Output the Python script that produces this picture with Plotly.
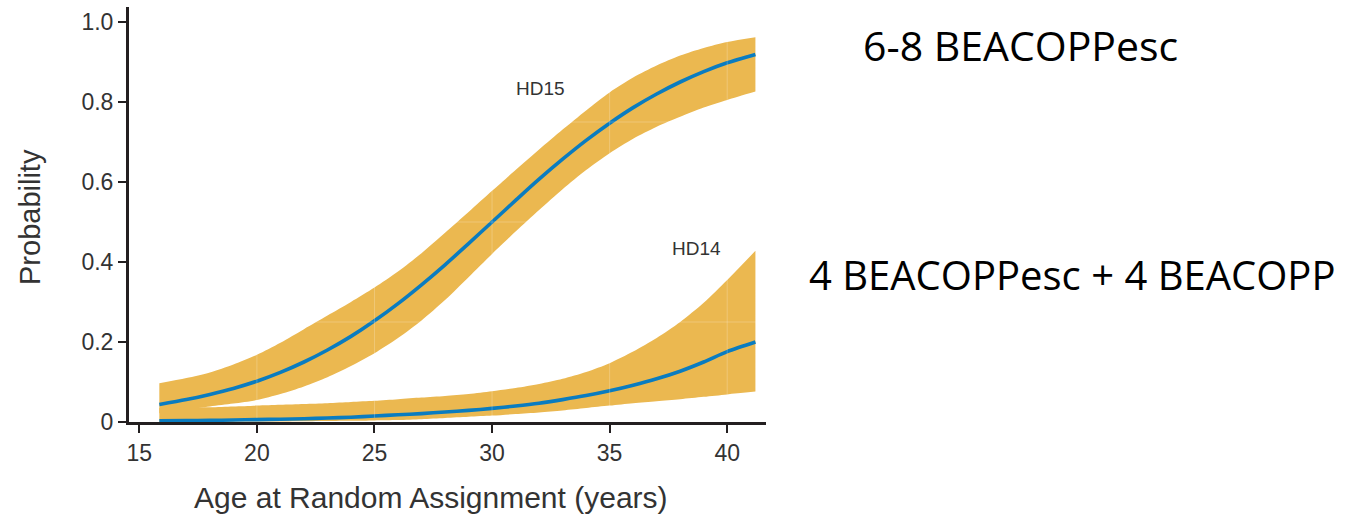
import plotly.graph_objects as go

# ---- data ----
age = [15.85, 17, 18, 19, 20, 21, 22, 23, 24, 25, 26, 27, 28, 29, 30,
       31, 32, 33, 34, 35, 36, 37, 38, 39, 40, 41.2]

hd15_mid = [0.044, 0.056, 0.069, 0.084, 0.102, 0.124, 0.150, 0.180, 0.214, 0.253,
            0.296, 0.343, 0.393, 0.446, 0.500, 0.554, 0.607, 0.657, 0.704, 0.747,
            0.786, 0.820, 0.850, 0.876, 0.898, 0.919]
hd15_lo = [0.022, 0.031, 0.039, 0.046, 0.055, 0.070, 0.089, 0.112, 0.140, 0.172,
           0.210, 0.254, 0.305, 0.362, 0.420, 0.476, 0.530, 0.582, 0.630, 0.672,
           0.708, 0.738, 0.763, 0.786, 0.805, 0.826]
hd15_hi = [0.097, 0.110, 0.124, 0.144, 0.168, 0.198, 0.232, 0.266, 0.300, 0.336,
           0.376, 0.422, 0.473, 0.525, 0.578, 0.630, 0.681, 0.731, 0.779, 0.824,
           0.861, 0.891, 0.916, 0.935, 0.950, 0.962]

hd14_mid = [0.003, 0.0035, 0.004, 0.005, 0.006, 0.007, 0.008, 0.010, 0.012, 0.015,
            0.018, 0.021, 0.025, 0.029, 0.034, 0.040, 0.047, 0.056, 0.066, 0.078,
            0.092, 0.108, 0.127, 0.150, 0.176, 0.200]
hd14_lo = [0.0, 0.0003, 0.0005, 0.0008, 0.001, 0.0015, 0.002, 0.0025, 0.003, 0.004,
           0.005, 0.007, 0.010, 0.013, 0.016, 0.020, 0.024, 0.029, 0.035, 0.041,
           0.047, 0.052, 0.057, 0.063, 0.069, 0.076]
hd14_hi = [0.035, 0.036, 0.037, 0.039, 0.041, 0.043, 0.045, 0.047, 0.050, 0.053,
           0.057, 0.061, 0.065, 0.070, 0.077, 0.085, 0.095, 0.108, 0.125, 0.147,
           0.176, 0.210, 0.250, 0.298, 0.355, 0.428]

x_ticks = [15, 20, 25, 30, 35, 40]
y_ticks = [0, 0.2, 0.4, 0.6, 0.8, 1.0]
y_ticktext = ["0", "0.2", "0.4", "0.6", "0.8", "1.0"]
grid_y = [0.25, 0.5, 0.75]

series_labels = ["HD15", "HD14"]
label_pos = [(32.04, 0.833), (38.7, 0.433)]
regimen_labels = ["6-8 BEACOPPesc", "4 BEACOPPesc + 4 BEACOPP"]

BAND = "rgb(235,184,80)"
BLUE = "rgb(10,124,192)"
AXIS = "#231f20"
TXT = "#333333"
SANS = "Liberation Sans, Arial, sans-serif"

fig = go.Figure()

for lo, hi in [(hd15_lo, hd15_hi), (hd14_lo, hd14_hi)]:
    fig.add_trace(go.Scatter(x=age, y=lo, mode="lines",
                             line=dict(width=0, shape="spline", smoothing=0.8, color=BAND),
                             showlegend=False, hoverinfo="skip"))
    fig.add_trace(go.Scatter(x=age, y=hi, mode="lines", fill="tonexty",
                             fillcolor=BAND,
                             line=dict(width=0, shape="spline", smoothing=0.8, color=BAND),
                             showlegend=False, hoverinfo="skip"))

for mid in [hd15_mid, hd14_mid]:
    fig.add_trace(go.Scatter(x=age, y=mid, mode="lines",
                             line=dict(width=3.6, shape="spline", smoothing=0.8, color=BLUE),
                             showlegend=False))

shapes = []
for gx in x_ticks:
    shapes.append(dict(type="line", xref="x", yref="paper", x0=gx, x1=gx, y0=0.01, y1=1,
                       line=dict(color="rgba(255,255,255,0.22)", width=1), layer="above"))
for gy in grid_y:
    shapes.append(dict(type="line", xref="paper", yref="y", x0=0, x1=1, y0=gy, y1=gy,
                       line=dict(color="rgba(255,255,255,0.22)", width=1), layer="above"))

annotations = []
for name, (lx, ly) in zip(series_labels, label_pos):
    annotations.append(dict(text=name, x=lx, y=ly, xref="x", yref="y", showarrow=False,
                            font=dict(family=SANS, size=19, color=TXT)))

annotations.append(dict(text="Age at Random Assignment (years)", xref="paper", yref="paper",
                        x=0.474, y=-0.181, xanchor="center", yanchor="middle", showarrow=False,
                        font=dict(family=SANS, size=30, color=TXT)))
annotations.append(dict(text="Probability", xref="paper", yref="paper",
                        x=-0.1554, y=0.494, xanchor="center", yanchor="middle", textangle=-90,
                        showarrow=False,
                        font=dict(family=SANS, size=29, color=TXT)))

annotations.append(dict(text=regimen_labels[0], xref="paper", yref="paper",
                        x=1.149, y=0.908, xanchor="left", yanchor="middle", showarrow=False,
                        font=dict(family="Open Sans, sans-serif", size=41, color="black")))
annotations.append(dict(text=regimen_labels[1], xref="paper", yref="paper",
                        x=1.064, y=0.355, xanchor="left", yanchor="middle", showarrow=False,
                        font=dict(family="Open Sans, sans-serif", size=40, color="black")))

fig.update_layout(
    width=1361, height=515,
    margin=dict(l=129, r=595, t=7, b=93),
    paper_bgcolor="white", plot_bgcolor="white",
    shapes=shapes, annotations=annotations,
    xaxis=dict(range=[14.56, 41.65], showline=True, linewidth=3, linecolor=AXIS,
               ticks="outside", ticklen=8, tickwidth=2, tickcolor=AXIS,
               tickvals=x_ticks, showgrid=False, zeroline=False,
               tickfont=dict(family=SANS, size=23, color=TXT)),
    yaxis=dict(range=[0, 1.0375], showline=True, linewidth=3, linecolor=AXIS,
               ticks="outside", ticklen=8, tickwidth=2, tickcolor=AXIS,
               tickvals=y_ticks, ticktext=y_ticktext, showgrid=False, zeroline=False,
               tickfont=dict(family=SANS, size=23, color=TXT)),
)

fig.write_html("out.html",
               config={"displayModeBar": False},
               post_script="document.body.style.margin='0';document.body.style.overflow='hidden';")
